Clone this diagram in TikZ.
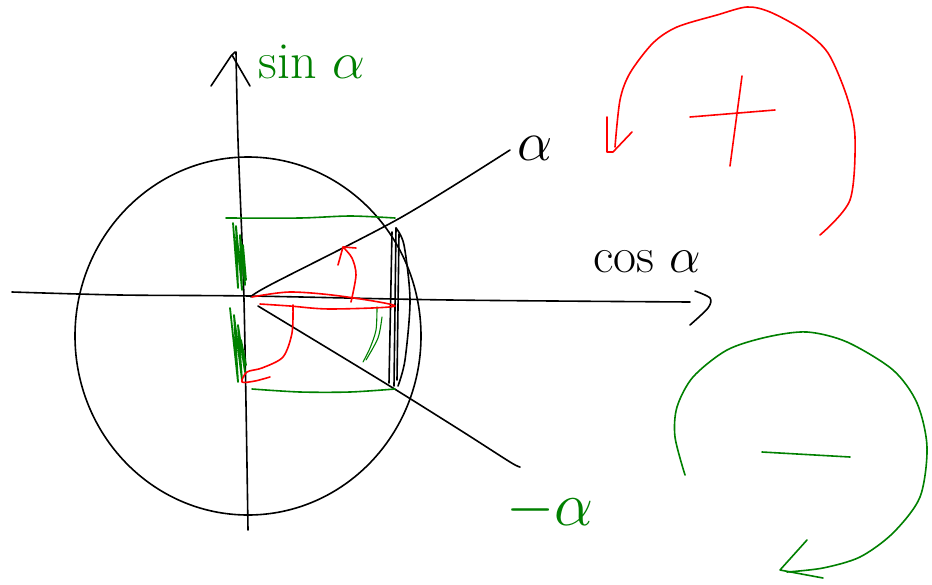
\RequirePackage{fix-cm}
\documentclass[tikz,border=0pt]{standalone}
\usepackage{amsmath}
\definecolor{pengreen}{RGB}{0,128,0}
\definecolor{penred}{RGB}{255,0,0}
\begin{document}
\begin{tikzpicture}[x=1pt,y=-1pt,line cap=round,line join=round]
\tikzset{
  ink/.style={line width=1.6pt,black},
  gink/.style={line width=1.6pt,pengreen},
  rink/.style={line width=1.6pt,penred},
  lbl/.style={inner sep=0pt,anchor=center}
}
\useasboundingbox (0,0) rectangle (932,584);
\fill[white] (0,0) rectangle (932,584);

% unit circle
\draw[ink] (248,336) ellipse [x radius=173, y radius=179];

% vertical axis with hand arrow
\draw[ink] plot[smooth] coordinates {(236,52) (238,140) (244,300) (248,530)};
\draw[ink] (211,86) -- (231,56) -- (235,52);
\draw[ink] (232,55) -- (250,86);

% horizontal axis with hand arrow
\draw[ink] plot[smooth] coordinates {(12,292) (120,295) (250,296) (450,300) (690,302)};
\draw[ink] plot[smooth] coordinates {(695,291) (710,298) (708,308) (690,325)};

% rays alpha and -alpha
\draw[ink] plot[smooth] coordinates {(251,297) (270,285) (400,218) (510,150)};
\draw[ink] plot[smooth] coordinates {(258,306) (380,380) (460,430) (510,462) (520,467)};

% green projection lines
\draw[gink] plot[smooth] coordinates {(226,218) (300,218) (350,216) (395,218)};
\draw[gink] plot[smooth] coordinates {(252,389) (300,392) (350,392) (395,389)};

% black vertical (cos) strokes
\draw[ink] (392,232) -- (389,383);
\draw[ink] (396,228) -- (394,386);
\draw[ink] (399,234) -- (397,380);
\draw[ink] plot[smooth] coordinates {(396,228) (404,245) (410,300) (405,360) (398,386)};

% green scribbles on the sine axis
\draw[gink,line width=1.8pt] (233,223) -- (238,288) -- (236,226) -- (242,290) -- (240,235) -- (245,285) -- (243,245) -- (246,280);
\draw[gink,line width=1.8pt] (230,308) -- (238,382) -- (234,315) -- (242,380) -- (238,325) -- (245,372) -- (241,340) -- (246,365);

% small green stroke
\draw[gink,line width=1.1pt] plot[smooth] coordinates {(377,307) (376,330) (370,348) (363,362)};
\draw[gink,line width=1.1pt] plot[smooth] coordinates {(382,317) (378,338) (366,360)};

% red horizontal loop
\draw[rink] plot[smooth] coordinates {(252,297) (290,292) (340,296) (395,306) (330,309) (290,306) (260,304)};
% red arrow upwards (alpha)
\draw[rink] plot[smooth] coordinates {(351,302) (356,275) (352,258) (343,247)};
\draw[rink] (338,265) -- (343,247) -- (356,248);
% red arrow downwards (-alpha)
\draw[rink] plot[smooth] coordinates {(293,305) (292,333) (283,357) (262,368) (247,372) (242,382) (255,381) (270,377)};

% labels
\node[lbl,pengreen,font=\fontsize{52}{52}\selectfont] (sinlbl) at (312,62) {sin $\alpha$};
\node[lbl,font=\fontsize{56}{56}\selectfont] (albl) at (535,148) {$\alpha$};
\node[lbl,font=\fontsize{50}{50}\selectfont] (coslbl) at (647,262) {cos $\alpha$};
\node[lbl,pengreen,font=\fontsize{62}{62}\selectfont] (malbl) at (550,510) {$-\alpha$};

% big red circular arrow (+)
\draw[rink] plot[smooth] coordinates {(820,235) (850,200) (855,137) (847,97) (828,53) (803,30) (770,12) (747,7) (717,15) (677,27) (653,43) (630,73) (620,100) (615,147)};
\draw[rink] (607,117) -- (607,152) -- (613,152) -- (632,132);
\draw[rink] (690,117) -- (775,110);
\draw[rink] (742,76) -- (730,166);

% big green circular arrow (-)
\draw[gink] plot[smooth] coordinates {(685,475) (675,437) (677,407) (693,377) (727,350) (767,337) (807,332) (847,342) (893,370) (917,403) (927,447) (920,497) (893,533) (860,557) (823,568) (787,572)};
\draw[gink] (807,540) -- (780,570) -- (823,578);
\draw[gink] (762,452) -- (850,457);
\end{tikzpicture}
\end{document}
